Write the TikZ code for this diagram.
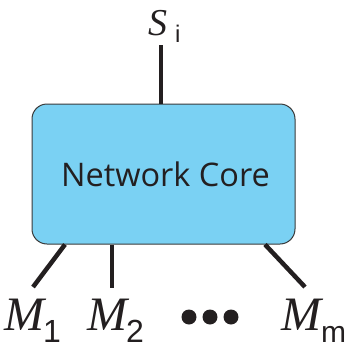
\documentclass[tikz,border=0pt]{standalone}
\usepackage{fontspec}
\setsansfont{Open Sans}
\newfontfamily\subfont{Liberation Sans}
\newfontfamily\varfont{Liberation Serif}
\definecolor{corefill}{HTML}{7AD1F3}
\definecolor{coreedge}{HTML}{3A3A3A}
\definecolor{ink}{HTML}{231F20}
\begin{document}
\begin{tikzpicture}[x=1pt,y=-1pt,
  corebox/.style={draw=coreedge,line width=1pt,fill=corefill,rounded corners=15pt,
    minimum width=263pt,minimum height=140pt,inner sep=0pt},
  wire/.style={draw=ink,line width=4.5pt},
  mlabel/.style={inner sep=0pt,anchor=base west,text=ink},
  dotm/.style={circle,fill=ink,minimum size=15pt,inner sep=0pt}]
\useasboundingbox (0,0) rectangle (346,349);
\node[corebox] (core) at (163.5,174) {};
\node[text=ink,anchor=base,inner sep=0pt] (txt) at (165.5,186)
  {\sffamily\fontsize{32.5}{32.5}\selectfont Network Core};
% labels
\node[mlabel] (s) at (148,35) {\varfont\fontsize{38}{38}\selectfont\itshape S\upshape\kern8pt\raisebox{-7pt}{\subfont\fontsize{24}{24}\selectfont i}};
\node[mlabel] (m1) at (4,330) {\varfont\fontsize{48}{48}\selectfont\itshape M\upshape\kern-1pt\raisebox{-12pt}{\subfont\fontsize{32}{32}\selectfont 1}};
\node[mlabel] (m2) at (87,330) {\varfont\fontsize{48}{48}\selectfont\itshape M\upshape\kern-1pt\raisebox{-12pt}{\subfont\fontsize{32}{32}\selectfont 2}};
\node[mlabel] (mm) at (281,330) {\varfont\fontsize{48}{48}\selectfont\itshape M\upshape\kern0pt\raisebox{-12pt}{\subfont\fontsize{30}{30}\selectfont m}};
\node[dotm] (d1) at (189,317) {};
\node[dotm] (d2) at (210,317) {};
\node[dotm] (d3) at (231,317) {};
% wires
\coordinate (ts) at (161,45);
\coordinate (b1) at (33,287);
\coordinate (b2) at (112,288);
\coordinate (bm) at (305,287);
\draw[wire] (ts) -- (161,104);
\draw[wire] (65,244.5) -- (b1);
\draw[wire] (112,244.5) -- (b2);
\draw[wire] (265,244.5) -- (bm);
\end{tikzpicture}
\end{document}
